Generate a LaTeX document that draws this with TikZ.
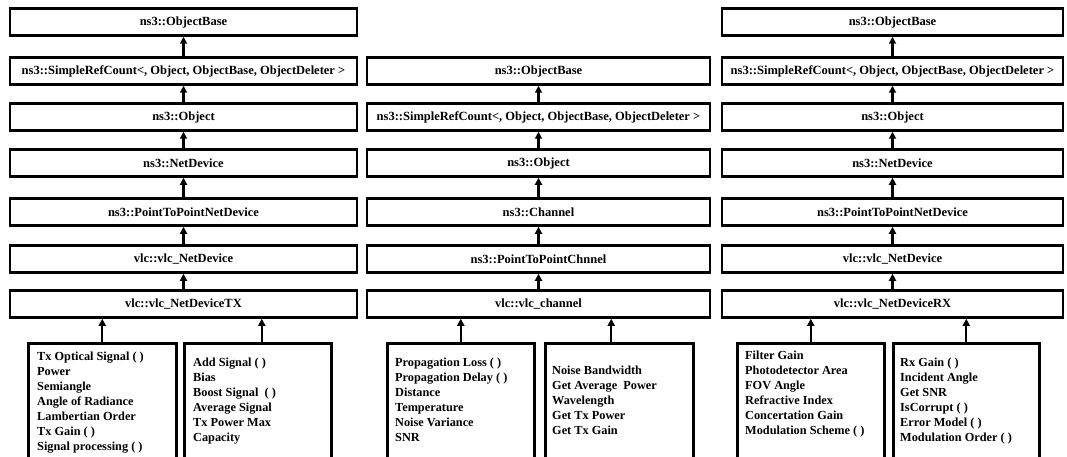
\documentclass[tikz,border=0pt]{standalone}
\usepackage{fontspec}
\setmainfont{Liberation Serif}
\usepackage{tikz}
\usetikzlibrary{arrows.meta}
\tikzset{
        clsbox/.style={draw, line width=2.5pt, fill=white, inner sep=0pt, minimum height=27pt, font=\bfseries\fontsize{12.5}{14}\selectfont},
        membox/.style={draw, line width=2.5pt, anchor=north west, inner sep=0pt},
        memtext/.style={anchor=north west, align=left, inner sep=0pt, font=\bfseries\fontsize{12.3}{15}\selectfont},
        inherit/.style={line width=2.3pt, -{Triangle[width=7pt,length=7pt]}}
}
\newcommand{\cls}[5]{\node[clsbox, minimum width=#4pt] (#1) at ( #2 , #3 ) {#5};}
\newcommand{\membx}[5]{\node[membox, minimum width=#4pt, minimum height=#5pt] (#1) at ( #2 , #3 ) {};}
\begin{document}
\begin{tikzpicture}[x=1pt,y=-1pt]
        \useasboundingbox (0,0) rectangle (1067,457);
        \clip (0,0) rectangle (1067,457);

        % col 1 : transmitter
        \cls{lObjBase}{183.5}{22}{347}{ns3::ObjectBase}
        \cls{lRefCnt}{183.5}{71}{347}{ns3::SimpleRefCount<, Object, ObjectBase, ObjectDeleter >}
        \cls{lObj}{183.5}{117}{347}{ns3::Object}
        \cls{lNetDev}{183.5}{163}{347}{ns3::NetDevice}
        \cls{lP2P}{183.5}{212}{347}{ns3::PointToPointNetDevice}
        \cls{lVlc}{183.5}{259}{347}{vlc::vlc\_NetDevice}
        \cls{tx}{183.5}{304}{347}{vlc::vlc\_NetDeviceTX}

        % col 2 : channel
        \cls{mObjBase}{538.5}{71}{343}{ns3::ObjectBase}
        \cls{mRefCnt}{538.5}{117}{343}{ns3::SimpleRefCount<, Object, ObjectBase, ObjectDeleter >}
        \cls{mObj}{538.5}{163}{343}{ns3::Object}
        \cls{mChan}{538.5}{212}{343}{ns3::Channel}
        \cls{mP2P}{538.5}{259}{343}{ns3::PointToPointChnnel}
        \cls{chan}{538.5}{304}{343}{vlc::vlc\_channel}

        % col 3 : receiver
        \cls{rObjBase}{892.5}{22}{341}{ns3::ObjectBase}
        \cls{rRefCnt}{892.5}{71}{341}{ns3::SimpleRefCount<, Object, ObjectBase, ObjectDeleter >}
        \cls{rObj}{892.5}{117}{341}{ns3::Object}
        \cls{rNetDev}{892.5}{163}{341}{ns3::NetDevice}
        \cls{rP2P}{892.5}{212}{341}{ns3::PointToPointNetDevice}
        \cls{rVlc}{892.5}{259}{341}{vlc::vlc\_NetDevice}
        \cls{rx}{892.5}{304}{341}{vlc::vlc\_NetDeviceRX}

        % inheritance
        \draw[inherit] (lRefCnt.north) -- (lObjBase.south);
        \draw[inherit] (lObj.north) -- (lRefCnt.south);
        \draw[inherit] (lNetDev.north) -- (lObj.south);
        \draw[inherit] (lP2P.north) -- (lNetDev.south);
        \draw[inherit] (lVlc.north) -- (lP2P.south);
        \draw[inherit] (tx.north) -- (lVlc.south);

        \draw[inherit] (mRefCnt.north) -- (mObjBase.south);
        \draw[inherit] (mObj.north) -- (mRefCnt.south);
        \draw[inherit] (mChan.north) -- (mObj.south);
        \draw[inherit] (mP2P.north) -- (mChan.south);
        \draw[inherit] (chan.north) -- (mP2P.south);

        \draw[inherit] (rRefCnt.north) -- (rObjBase.south);
        \draw[inherit] (rObj.north) -- (rRefCnt.south);
        \draw[inherit] (rNetDev.north) -- (rObj.south);
        \draw[inherit] (rP2P.north) -- (rNetDev.south);
        \draw[inherit] (rVlc.north) -- (rP2P.south);
        \draw[inherit] (rx.north) -- (rVlc.south);

        % member boxes
        \membx{txA}{27}{342}{148}{130}
        \membx{txB}{183}{342}{147}{130}
        \membx{chA}{386}{342}{147}{130}
        \membx{chB}{544}{342}{148}{130}
        \membx{rxA}{736}{342}{147}{130}
        \membx{rxB}{892}{342}{146}{130}

        \node[memtext] (txAtext) at (37,352) {Tx Optical Signal ( )\\Power\\Semiangle\\Angle of Radiance\\Lambertian Order\\Tx Gain ( )\\Signal processing ( )};
        \node[memtext] (txBtext) at (193,358) {Add Signal ( )\\Bias\\Boost Signal\ \ ( )\\Average Signal\\Tx Power Max\\Capacity};
        \node[memtext] (chAtext) at (395,358) {Propagation Loss ( )\\Propagation Delay ( )\\Distance\\Temperature\\Noise Variance\\SNR};
        \node[memtext] (chBtext) at (552,366) {Noise Bandwidth\\Get Average\ \ Power\\Wavelength\\Get Tx Power\\Get Tx Gain};
        \node[memtext] (rxAtext) at (745,351) {Filter Gain\\Photodetector Area\\FOV Angle\\Refractive Index\\Concertation Gain\\Modulation Scheme ( )};
        \node[memtext] (rxBtext) at (900,358) {Rx Gain ( )\\Incident Angle\\Get SNR\\IsCorrupt ( )\\Error Model ( )\\Modulation Order ( )};

        \draw[inherit] (txA.north) -- (txA.north |- tx.south);
        \draw[inherit] ([xshift=4pt]txB.north) -- ([xshift=4pt]txB.north |- tx.south);
        \draw[inherit] (chA.north) -- (chA.north |- chan.south);
        \draw[inherit] ([xshift=-8pt]chB.north) -- ([xshift=-8pt]chB.north |- chan.south);
        \draw[inherit] (rxA.north) -- (rxA.north |- rx.south);
        \draw[inherit] (rxB.north) -- (rxB.north |- rx.south);
\end{tikzpicture}
\end{document}
